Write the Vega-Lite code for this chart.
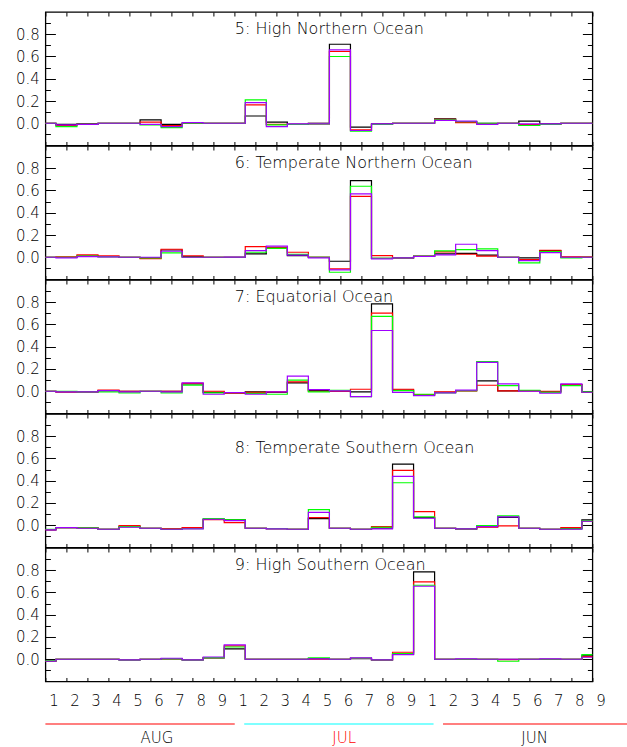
{
"$schema": "https://vega.github.io/schema/vega-lite/v6.json",
"background": "white",
"padding": {"left": 14.4, "top": 10, "right": 0, "bottom": 0},
"autosize": {"type": "pad"},
"bounds": "flush",
"spacing": 0,
"config": {
 "view": {"stroke": "#000000", "strokeWidth": 1.3},
 "axis": {"domain": false, "grid": false, "title": null, "labelFont": "DejaVu Sans", "labelFontSize": 15, "labelFontWeight": 300, "labelColor": "#000000", "tickColor": "#000000", "tickWidth": 1, "labelFlush": false, "labelOverlap": false},
 "text": {"font": "DejaVu Sans", "fontWeight": 300}
},
"datasets": {
 "ocean": [
  {"p":5,"k":0,"s1":0,"s2":0,"s3":0,"s4":0},
  {"p":5,"k":1,"s1":-0.01,"s2":-0.02,"s3":-0.03,"s4":-0.015},
  {"p":5,"k":2,"s1":-0.005,"s2":-0.01,"s3":-0.01,"s4":-0.01},
  {"p":5,"k":3,"s1":0,"s2":0,"s3":0,"s4":0},
  {"p":5,"k":4,"s1":0,"s2":0,"s3":0,"s4":0},
  {"p":5,"k":5,"s1":0.03,"s2":0.01,"s3":-0.015,"s4":-0.01},
  {"p":5,"k":6,"s1":-0.01,"s2":-0.02,"s3":-0.04,"s4":-0.03},
  {"p":5,"k":7,"s1":0,"s2":0,"s3":0,"s4":0.005},
  {"p":5,"k":8,"s1":0,"s2":0,"s3":0,"s4":0},
  {"p":5,"k":9,"s1":0,"s2":0,"s3":0,"s4":0},
  {"p":5,"k":10,"s1":0.065,"s2":0.165,"s3":0.21,"s4":0.185},
  {"p":5,"k":11,"s1":0.01,"s2":-0.01,"s3":-0.015,"s4":-0.03},
  {"p":5,"k":12,"s1":-0.01,"s2":-0.01,"s3":-0.01,"s4":-0.005},
  {"p":5,"k":13,"s1":-0.005,"s2":0,"s3":0,"s4":0},
  {"p":5,"k":14,"s1":0.71,"s2":0.645,"s3":0.6,"s4":0.66},
  {"p":5,"k":15,"s1":-0.035,"s2":-0.06,"s3":-0.07,"s4":-0.065},
  {"p":5,"k":16,"s1":-0.005,"s2":-0.01,"s3":-0.01,"s4":-0.005},
  {"p":5,"k":17,"s1":0,"s2":0,"s3":0,"s4":0},
  {"p":5,"k":18,"s1":0,"s2":0,"s3":0,"s4":0},
  {"p":5,"k":19,"s1":0.04,"s2":0.035,"s3":0.03,"s4":0.025},
  {"p":5,"k":20,"s1":0.015,"s2":0.006,"s3":0.015,"s4":0.02},
  {"p":5,"k":21,"s1":0,"s2":-0.005,"s3":0,"s4":-0.01},
  {"p":5,"k":22,"s1":0,"s2":0,"s3":0,"s4":0},
  {"p":5,"k":23,"s1":0.02,"s2":-0.013,"s3":-0.02,"s4":-0.005},
  {"p":5,"k":24,"s1":-0.005,"s2":-0.01,"s3":-0.01,"s4":-0.005},
  {"p":5,"k":25,"s1":0,"s2":0,"s3":0,"s4":0},
  {"p":5,"k":26,"s1":0,"s2":0,"s3":0,"s4":0},

  {"p":6,"k":0,"s1":0,"s2":0,"s3":0,"s4":0},
  {"p":6,"k":1,"s1":0,"s2":0.003,"s3":0,"s4":-0.005},
  {"p":6,"k":2,"s1":0.01,"s2":0.021,"s3":0.01,"s4":0.005},
  {"p":6,"k":3,"s1":0.005,"s2":0.012,"s3":0.005,"s4":0.003},
  {"p":6,"k":4,"s1":0,"s2":0,"s3":0,"s4":0},
  {"p":6,"k":5,"s1":-0.005,"s2":-0.012,"s3":-0.005,"s4":0},
  {"p":6,"k":6,"s1":0.065,"s2":0.072,"s3":0.04,"s4":0.054},
  {"p":6,"k":7,"s1":0.005,"s2":0.012,"s3":0,"s4":0},
  {"p":6,"k":8,"s1":0,"s2":0,"s3":0,"s4":0},
  {"p":6,"k":9,"s1":0,"s2":0,"s3":0,"s4":0.002},
  {"p":6,"k":10,"s1":0.03,"s2":0.096,"s3":0.045,"s4":0.06},
  {"p":6,"k":11,"s1":0.085,"s2":0.09,"s3":0.08,"s4":0.1},
  {"p":6,"k":12,"s1":0.015,"s2":0.045,"s3":0.025,"s4":0.02},
  {"p":6,"k":13,"s1":0,"s2":0,"s3":0,"s4":-0.005},
  {"p":6,"k":14,"s1":-0.036,"s2":-0.105,"s3":-0.135,"s4":-0.114},
  {"p":6,"k":15,"s1":0.689,"s2":0.548,"s3":0.638,"s4":0.569},
  {"p":6,"k":16,"s1":-0.01,"s2":0.015,"s3":-0.01,"s4":-0.015},
  {"p":6,"k":17,"s1":-0.005,"s2":-0.005,"s3":-0.005,"s4":-0.005},
  {"p":6,"k":18,"s1":0.008,"s2":0.01,"s3":0.01,"s4":0.008},
  {"p":6,"k":19,"s1":0.03,"s2":0.048,"s3":0.057,"s4":0.021},
  {"p":6,"k":20,"s1":0.035,"s2":0.027,"s3":0.069,"s4":0.117},
  {"p":6,"k":21,"s1":0.02,"s2":0.01,"s3":0.075,"s4":0.06},
  {"p":6,"k":22,"s1":0,"s2":0,"s3":0,"s4":0},
  {"p":6,"k":23,"s1":-0.006,"s2":-0.02,"s3":-0.051,"s4":-0.03},
  {"p":6,"k":24,"s1":0.06,"s2":0.063,"s3":0.05,"s4":0.042},
  {"p":6,"k":25,"s1":0,"s2":0.003,"s3":-0.005,"s4":0},
  {"p":6,"k":26,"s1":0,"s2":0.003,"s3":0,"s4":0},

  {"p":7,"k":0,"s1":0,"s2":0,"s3":0,"s4":0},
  {"p":7,"k":1,"s1":-0.005,"s2":-0.005,"s3":0,"s4":-0.005},
  {"p":7,"k":2,"s1":-0.005,"s2":-0.005,"s3":-0.005,"s4":-0.005},
  {"p":7,"k":3,"s1":0.005,"s2":0.01,"s3":-0.005,"s4":0.005},
  {"p":7,"k":4,"s1":0,"s2":0,"s3":-0.015,"s4":-0.005},
  {"p":7,"k":5,"s1":0,"s2":0,"s3":0,"s4":0},
  {"p":7,"k":6,"s1":0,"s2":0,"s3":-0.015,"s4":-0.005},
  {"p":7,"k":7,"s1":0.065,"s2":0.07,"s3":0.055,"s4":0.075},
  {"p":7,"k":8,"s1":-0.01,"s2":0,"s3":-0.015,"s4":-0.027},
  {"p":7,"k":9,"s1":-0.012,"s2":-0.02,"s3":-0.012,"s4":-0.012},
  {"p":7,"k":10,"s1":-0.005,"s2":-0.01,"s3":-0.02,"s4":-0.027},
  {"p":7,"k":11,"s1":-0.01,"s2":-0.005,"s3":-0.027,"s4":-0.005},
  {"p":7,"k":12,"s1":0.075,"s2":0.085,"s3":0.1,"s4":0.136},
  {"p":7,"k":13,"s1":0.005,"s2":0,"s3":-0.005,"s4":0.015},
  {"p":7,"k":14,"s1":0,"s2":0,"s3":0.009,"s4":0.003},
  {"p":7,"k":15,"s1":-0.006,"s2":0.018,"s3":-0.048,"s4":-0.048},
  {"p":7,"k":16,"s1":0.785,"s2":0.703,"s3":0.673,"s4":0.546},
  {"p":7,"k":17,"s1":0.01,"s2":0.018,"s3":0.005,"s4":-0.01},
  {"p":7,"k":18,"s1":-0.035,"s2":-0.03,"s3":-0.027,"s4":-0.04},
  {"p":7,"k":19,"s1":-0.01,"s2":-0.006,"s3":-0.015,"s4":-0.015},
  {"p":7,"k":20,"s1":0.005,"s2":0.003,"s3":0.005,"s4":0.01},
  {"p":7,"k":21,"s1":0.094,"s2":0.054,"s3":0.266,"s4":0.26},
  {"p":7,"k":22,"s1":0.003,"s2":0.003,"s3":0.051,"s4":0.066},
  {"p":7,"k":23,"s1":0.005,"s2":0.003,"s3":0.009,"s4":0},
  {"p":7,"k":24,"s1":-0.005,"s2":0,"s3":-0.009,"s4":-0.018},
  {"p":7,"k":25,"s1":0.06,"s2":0.06,"s3":0.051,"s4":0.066},
  {"p":7,"k":26,"s1":-0.005,"s2":-0.009,"s3":-0.005,"s4":-0.009},

  {"p":8,"k":0,"s1":-0.042,"s2":-0.04,"s3":-0.036,"s4":-0.042},
  {"p":8,"k":1,"s1":-0.021,"s2":-0.021,"s3":-0.021,"s4":-0.021},
  {"p":8,"k":2,"s1":-0.024,"s2":-0.024,"s3":-0.024,"s4":-0.027},
  {"p":8,"k":3,"s1":-0.036,"s2":-0.036,"s3":-0.036,"s4":-0.036},
  {"p":8,"k":4,"s1":-0.012,"s2":-0.003,"s3":-0.012,"s4":-0.018},
  {"p":8,"k":5,"s1":-0.027,"s2":-0.027,"s3":-0.027,"s4":-0.027},
  {"p":8,"k":6,"s1":-0.036,"s2":-0.03,"s3":-0.036,"s4":-0.036},
  {"p":8,"k":7,"s1":-0.027,"s2":-0.021,"s3":-0.03,"s4":-0.033},
  {"p":8,"k":8,"s1":0.054,"s2":0.05,"s3":0.06,"s4":0.054},
  {"p":8,"k":9,"s1":0.048,"s2":0.024,"s3":0.048,"s4":0.042},
  {"p":8,"k":10,"s1":-0.027,"s2":-0.027,"s3":-0.027,"s4":-0.027},
  {"p":8,"k":11,"s1":-0.03,"s2":-0.03,"s3":-0.03,"s4":-0.033},
  {"p":8,"k":12,"s1":-0.036,"s2":-0.036,"s3":-0.036,"s4":-0.036},
  {"p":8,"k":13,"s1":0.06,"s2":0.069,"s3":0.14,"s4":0.116},
  {"p":8,"k":14,"s1":-0.027,"s2":-0.027,"s3":-0.027,"s4":-0.027},
  {"p":8,"k":15,"s1":-0.036,"s2":-0.036,"s3":-0.036,"s4":-0.036},
  {"p":8,"k":16,"s1":-0.025,"s2":-0.012,"s3":-0.018,"s4":-0.033},
  {"p":8,"k":17,"s1":0.549,"s2":0.493,"s3":0.382,"s4":0.439},
  {"p":8,"k":18,"s1":0.069,"s2":0.122,"s3":0.075,"s4":0.063},
  {"p":8,"k":19,"s1":-0.027,"s2":-0.027,"s3":-0.027,"s4":-0.027},
  {"p":8,"k":20,"s1":-0.033,"s2":-0.033,"s3":-0.033,"s4":-0.033},
  {"p":8,"k":21,"s1":-0.012,"s2":-0.018,"s3":-0.003,"s4":-0.012},
  {"p":8,"k":22,"s1":0.07,"s2":-0.006,"s3":0.084,"s4":0.075},
  {"p":8,"k":23,"s1":-0.027,"s2":-0.027,"s3":-0.027,"s4":-0.027},
  {"p":8,"k":24,"s1":-0.036,"s2":-0.036,"s3":-0.036,"s4":-0.036},
  {"p":8,"k":25,"s1":-0.03,"s2":-0.021,"s3":-0.033,"s4":-0.036},
  {"p":8,"k":26,"s1":0.048,"s2":0.036,"s3":0.04,"s4":0.036},

  {"p":9,"k":0,"s1":-0.018,"s2":-0.018,"s3":-0.015,"s4":-0.018},
  {"p":9,"k":1,"s1":0,"s2":0,"s3":0,"s4":0},
  {"p":9,"k":2,"s1":0,"s2":0,"s3":0,"s4":0},
  {"p":9,"k":3,"s1":0,"s2":0,"s3":0,"s4":0},
  {"p":9,"k":4,"s1":-0.006,"s2":-0.003,"s3":-0.006,"s4":-0.006},
  {"p":9,"k":5,"s1":0,"s2":0,"s3":0,"s4":0},
  {"p":9,"k":6,"s1":0.003,"s2":0.005,"s3":0.005,"s4":0.009},
  {"p":9,"k":7,"s1":-0.006,"s2":-0.003,"s3":-0.006,"s4":-0.006},
  {"p":9,"k":8,"s1":0.012,"s2":0.015,"s3":0.015,"s4":0.02},
  {"p":9,"k":9,"s1":0.093,"s2":0.12,"s3":0.11,"s4":0.129},
  {"p":9,"k":10,"s1":0,"s2":0,"s3":0,"s4":0},
  {"p":9,"k":11,"s1":0,"s2":0,"s3":0,"s4":0},
  {"p":9,"k":12,"s1":0,"s2":0,"s3":0,"s4":0},
  {"p":9,"k":13,"s1":0.005,"s2":0,"s3":0.012,"s4":0.003},
  {"p":9,"k":14,"s1":0,"s2":0,"s3":0,"s4":0},
  {"p":9,"k":15,"s1":0.005,"s2":0.008,"s3":0.01,"s4":0.012},
  {"p":9,"k":16,"s1":-0.006,"s2":-0.006,"s3":-0.006,"s4":-0.006},
  {"p":9,"k":17,"s1":0.045,"s2":0.063,"s3":0.05,"s4":0.042},
  {"p":9,"k":18,"s1":0.785,"s2":0.695,"s3":0.665,"s4":0.656},
  {"p":9,"k":19,"s1":0,"s2":0,"s3":0,"s4":0},
  {"p":9,"k":20,"s1":0,"s2":0,"s3":0,"s4":0.003},
  {"p":9,"k":21,"s1":0,"s2":0,"s3":0,"s4":0},
  {"p":9,"k":22,"s1":0,"s2":-0.003,"s3":-0.018,"s4":0},
  {"p":9,"k":23,"s1":0,"s2":0,"s3":0,"s4":0},
  {"p":9,"k":24,"s1":0,"s2":0,"s3":0,"s4":0.003},
  {"p":9,"k":25,"s1":0,"s2":0,"s3":0,"s4":0},
  {"p":9,"k":26,"s1":0.03,"s2":0.024,"s3":0.042,"s4":0.018}
 ],
 "titles": [
  {"p":5,"t":"5: High Northern Ocean"},
  {"p":6,"t":"6: Temperate Northern Ocean"},
  {"p":7,"t":"7: Equatorial Ocean"},
  {"p":8,"t":"8: Temperate Southern Ocean"},
  {"p":9,"t":"9: High Southern Ocean"}
 ],
 "months": [
  {"m":"AUG","a":0,"b":9,"c":5.3},
  {"m":"JUL","a":9.45,"b":18.45,"c":14.2},
  {"m":"JUN","a":18.9,"b":27.65,"c":23.25}
 ]
},
"vconcat": [
 {
  "width": 547, "height": 133.5,
  "layer": [
   {
    "data": {"name": "ocean"},
    "transform": [{"filter": "datum.p == 5"}, {"fold": ["s1","s2","s3","s4"], "as": ["series","value"]}],
    "mark": {"type": "line", "interpolate": "step", "strokeWidth": 1.2},
    "encoding": {
     "x": {"field": "k", "type": "quantitative", "scale": {"domain": [0,26], "nice": false, "zero": false}, "axis": {"orient": "bottom", "values": [0,1,2,3,4,5,6,7,8,9,10,11,12,13,14,15,16,17,18,19,20,21,22,23,24,25,26], "tickSize": -4, "labels": false}},
     "y": {"field": "value", "type": "quantitative", "scale": {"domain": [-0.2,1], "nice": false, "zero": false}, "axis": {"orient": "left", "values": [-0.1,0,0.1,0.2,0.3,0.4,0.5,0.6,0.7,0.8,0.9], "tickSize": {"condition": {"test": "abs(round(datum.value*10)) % 2 == 0", "value": -10}, "value": -5}, "labelPadding": 16, "labelExpr": "datum.value > -0.05 && datum.value < 0.85 && abs(round(datum.value*10)) % 2 == 0 ? format(datum.value, '.1f') : ''"}},
     "color": {"field": "series", "type": "nominal", "scale": {"domain": ["s1","s2","s3","s4"], "range": ["#000000","#ff0000","#00ff00","#a000ff"]}, "legend": null}
    }
   },
   {
    "data": {"name": "titles"},
    "transform": [{"filter": "datum.p == 5"}],
    "mark": {"type": "text", "align": "left", "baseline": "alphabetic", "fontSize": 16},
    "encoding": {
     "text": {"field": "t"},
     "x": {"datum": 9, "type": "quantitative", "axis": {"orient": "top", "values": [0,1,2,3,4,5,6,7,8,9,10,11,12,13,14,15,16,17,18,19,20,21,22,23,24,25,26], "tickSize": -4, "labels": false}},
     "y": {"datum": 0.8, "type": "quantitative", "axis": {"orient": "right", "values": [-0.1,0,0.1,0.2,0.3,0.4,0.5,0.6,0.7,0.8,0.9], "tickSize": {"condition": {"test": "abs(round(datum.value*10)) % 2 == 0", "value": -10}, "value": -5}, "labels": false}}
    }
   }
  ],
  "resolve": {"axis": {"x": "independent", "y": "independent"}}
 },
 {
  "width": 547, "height": 133.5,
  "layer": [
   {
    "data": {"name": "ocean"},
    "transform": [{"filter": "datum.p == 6"}, {"fold": ["s1","s2","s3","s4"], "as": ["series","value"]}],
    "mark": {"type": "line", "interpolate": "step", "strokeWidth": 1.2},
    "encoding": {
     "x": {"field": "k", "type": "quantitative", "scale": {"domain": [0,26], "nice": false, "zero": false}, "axis": {"orient": "bottom", "values": [0,1,2,3,4,5,6,7,8,9,10,11,12,13,14,15,16,17,18,19,20,21,22,23,24,25,26], "tickSize": -4, "labels": false}},
     "y": {"field": "value", "type": "quantitative", "scale": {"domain": [-0.2,1], "nice": false, "zero": false}, "axis": {"orient": "left", "values": [-0.1,0,0.1,0.2,0.3,0.4,0.5,0.6,0.7,0.8,0.9], "tickSize": {"condition": {"test": "abs(round(datum.value*10)) % 2 == 0", "value": -10}, "value": -5}, "labelPadding": 16, "labelExpr": "datum.value > -0.05 && datum.value < 0.85 && abs(round(datum.value*10)) % 2 == 0 ? format(datum.value, '.1f') : ''"}},
     "color": {"field": "series", "type": "nominal", "scale": {"domain": ["s1","s2","s3","s4"], "range": ["#000000","#ff0000","#00ff00","#a000ff"]}, "legend": null}
    }
   },
   {
    "data": {"name": "titles"},
    "transform": [{"filter": "datum.p == 6"}],
    "mark": {"type": "text", "align": "left", "baseline": "alphabetic", "fontSize": 16},
    "encoding": {
     "text": {"field": "t"},
     "x": {"datum": 9, "type": "quantitative", "axis": {"orient": "top", "values": [0,1,2,3,4,5,6,7,8,9,10,11,12,13,14,15,16,17,18,19,20,21,22,23,24,25,26], "tickSize": -4, "labels": false}},
     "y": {"datum": 0.8, "type": "quantitative", "axis": {"orient": "right", "values": [-0.1,0,0.1,0.2,0.3,0.4,0.5,0.6,0.7,0.8,0.9], "tickSize": {"condition": {"test": "abs(round(datum.value*10)) % 2 == 0", "value": -10}, "value": -5}, "labels": false}}
    }
   }
  ],
  "resolve": {"axis": {"x": "independent", "y": "independent"}}
 },
 {
  "width": 547, "height": 133.5,
  "layer": [
   {
    "data": {"name": "ocean"},
    "transform": [{"filter": "datum.p == 7"}, {"fold": ["s1","s2","s3","s4"], "as": ["series","value"]}],
    "mark": {"type": "line", "interpolate": "step", "strokeWidth": 1.2},
    "encoding": {
     "x": {"field": "k", "type": "quantitative", "scale": {"domain": [0,26], "nice": false, "zero": false}, "axis": {"orient": "bottom", "values": [0,1,2,3,4,5,6,7,8,9,10,11,12,13,14,15,16,17,18,19,20,21,22,23,24,25,26], "tickSize": -4, "labels": false}},
     "y": {"field": "value", "type": "quantitative", "scale": {"domain": [-0.2,1], "nice": false, "zero": false}, "axis": {"orient": "left", "values": [-0.1,0,0.1,0.2,0.3,0.4,0.5,0.6,0.7,0.8,0.9], "tickSize": {"condition": {"test": "abs(round(datum.value*10)) % 2 == 0", "value": -10}, "value": -5}, "labelPadding": 16, "labelExpr": "datum.value > -0.05 && datum.value < 0.85 && abs(round(datum.value*10)) % 2 == 0 ? format(datum.value, '.1f') : ''"}},
     "color": {"field": "series", "type": "nominal", "scale": {"domain": ["s1","s2","s3","s4"], "range": ["#000000","#ff0000","#00ff00","#a000ff"]}, "legend": null}
    }
   },
   {
    "data": {"name": "titles"},
    "transform": [{"filter": "datum.p == 7"}],
    "mark": {"type": "text", "align": "left", "baseline": "alphabetic", "fontSize": 16},
    "encoding": {
     "text": {"field": "t"},
     "x": {"datum": 9, "type": "quantitative", "axis": {"orient": "top", "values": [0,1,2,3,4,5,6,7,8,9,10,11,12,13,14,15,16,17,18,19,20,21,22,23,24,25,26], "tickSize": -4, "labels": false}},
     "y": {"datum": 0.8, "type": "quantitative", "axis": {"orient": "right", "values": [-0.1,0,0.1,0.2,0.3,0.4,0.5,0.6,0.7,0.8,0.9], "tickSize": {"condition": {"test": "abs(round(datum.value*10)) % 2 == 0", "value": -10}, "value": -5}, "labels": false}}
    }
   }
  ],
  "resolve": {"axis": {"x": "independent", "y": "independent"}}
 },
 {
  "width": 547, "height": 133.5,
  "layer": [
   {
    "data": {"name": "ocean"},
    "transform": [{"filter": "datum.p == 8"}, {"fold": ["s1","s2","s3","s4"], "as": ["series","value"]}],
    "mark": {"type": "line", "interpolate": "step", "strokeWidth": 1.2},
    "encoding": {
     "x": {"field": "k", "type": "quantitative", "scale": {"domain": [0,26], "nice": false, "zero": false}, "axis": {"orient": "bottom", "values": [0,1,2,3,4,5,6,7,8,9,10,11,12,13,14,15,16,17,18,19,20,21,22,23,24,25,26], "tickSize": -4, "labels": false}},
     "y": {"field": "value", "type": "quantitative", "scale": {"domain": [-0.2,1], "nice": false, "zero": false}, "axis": {"orient": "left", "values": [-0.1,0,0.1,0.2,0.3,0.4,0.5,0.6,0.7,0.8,0.9], "tickSize": {"condition": {"test": "abs(round(datum.value*10)) % 2 == 0", "value": -10}, "value": -5}, "labelPadding": 16, "labelExpr": "datum.value > -0.05 && datum.value < 0.85 && abs(round(datum.value*10)) % 2 == 0 ? format(datum.value, '.1f') : ''"}},
     "color": {"field": "series", "type": "nominal", "scale": {"domain": ["s1","s2","s3","s4"], "range": ["#000000","#ff0000","#00ff00","#a000ff"]}, "legend": null}
    }
   },
   {
    "data": {"name": "titles"},
    "transform": [{"filter": "datum.p == 8"}],
    "mark": {"type": "text", "align": "left", "baseline": "alphabetic", "fontSize": 16},
    "encoding": {
     "text": {"field": "t"},
     "x": {"datum": 9, "type": "quantitative", "axis": {"orient": "top", "values": [0,1,2,3,4,5,6,7,8,9,10,11,12,13,14,15,16,17,18,19,20,21,22,23,24,25,26], "tickSize": -4, "labels": false}},
     "y": {"datum": 0.65, "type": "quantitative", "axis": {"orient": "right", "values": [-0.1,0,0.1,0.2,0.3,0.4,0.5,0.6,0.7,0.8,0.9], "tickSize": {"condition": {"test": "abs(round(datum.value*10)) % 2 == 0", "value": -10}, "value": -5}, "labels": false}}
    }
   }
  ],
  "resolve": {"axis": {"x": "independent", "y": "independent"}}
 },
 {
  "width": 547, "height": 133.5,
  "layer": [
   {
    "data": {"name": "ocean"},
    "transform": [{"filter": "datum.p == 9"}, {"fold": ["s1","s2","s3","s4"], "as": ["series","value"]}],
    "mark": {"type": "line", "interpolate": "step", "strokeWidth": 1.2},
    "encoding": {
     "x": {"field": "k", "type": "quantitative", "scale": {"domain": [0,26], "nice": false, "zero": false}, "axis": {"orient": "bottom", "values": [0,1,2,3,4,5,6,7,8,9,10,11,12,13,14,15,16,17,18,19,20,21,22,23,24,25,26], "tickSize": -4, "labels": true, "labelPadding": 16.3, "labelOffset": 8, "labelExpr": "'' + (datum.value % 9 + 1)"}},
     "y": {"field": "value", "type": "quantitative", "scale": {"domain": [-0.2,1], "nice": false, "zero": false}, "axis": {"orient": "left", "values": [-0.1,0,0.1,0.2,0.3,0.4,0.5,0.6,0.7,0.8,0.9], "tickSize": {"condition": {"test": "abs(round(datum.value*10)) % 2 == 0", "value": -10}, "value": -5}, "labelPadding": 16, "labelExpr": "datum.value > -0.05 && datum.value < 0.85 && abs(round(datum.value*10)) % 2 == 0 ? format(datum.value, '.1f') : ''"}},
     "color": {"field": "series", "type": "nominal", "scale": {"domain": ["s1","s2","s3","s4"], "range": ["#000000","#ff0000","#00ff00","#a000ff"]}, "legend": null}
    }
   },
   {
    "data": {"name": "titles"},
    "transform": [{"filter": "datum.p == 9"}],
    "mark": {"type": "text", "align": "left", "baseline": "alphabetic", "fontSize": 16},
    "encoding": {
     "text": {"field": "t"},
     "x": {"datum": 9, "type": "quantitative", "axis": {"orient": "top", "values": [0,1,2,3,4,5,6,7,8,9,10,11,12,13,14,15,16,17,18,19,20,21,22,23,24,25,26], "tickSize": -4, "labels": false}},
     "y": {"datum": 0.8, "type": "quantitative", "axis": {"orient": "right", "values": [-0.1,0,0.1,0.2,0.3,0.4,0.5,0.6,0.7,0.8,0.9], "tickSize": {"condition": {"test": "abs(round(datum.value*10)) % 2 == 0", "value": -10}, "value": -5}, "labels": false}}
    }
   }
  ],
  "resolve": {"axis": {"x": "independent", "y": "independent"}}
 },
 {
  "width": 547, "height": 42,
  "view": {"stroke": null},
  "data": {"name": "months"},
  "layer": [
   {
    "mark": {"type": "rule", "strokeWidth": 1.2},
    "encoding": {
     "x": {"field": "a", "type": "quantitative", "scale": {"domain": [0,26], "nice": false, "zero": false}, "axis": null},
     "x2": {"field": "b"},
     "y": {"datum": 0, "type": "quantitative", "scale": {"domain": [0,1], "nice": false, "zero": false}, "axis": null},
     "color": {"field": "m", "type": "nominal", "scale": {"domain": ["AUG","JUL","JUN"], "range": ["#ff0000","#00ffff","#ff0000"]}, "legend": null}
    }
   },
   {
    "mark": {"type": "text", "baseline": "middle", "align": "center", "dy": 14, "fontSize": 15},
    "encoding": {
     "x": {"field": "c", "type": "quantitative"},
     "y": {"datum": 0, "type": "quantitative"},
     "text": {"field": "m"},
     "color": {"field": "m", "type": "nominal", "scale": {"domain": ["AUG","JUL","JUN"], "range": ["#000000","#ff0000","#000000"]}, "legend": null}
    }
   }
  ],
  "resolve": {"scale": {"color": "independent"}}
 }
]
}
